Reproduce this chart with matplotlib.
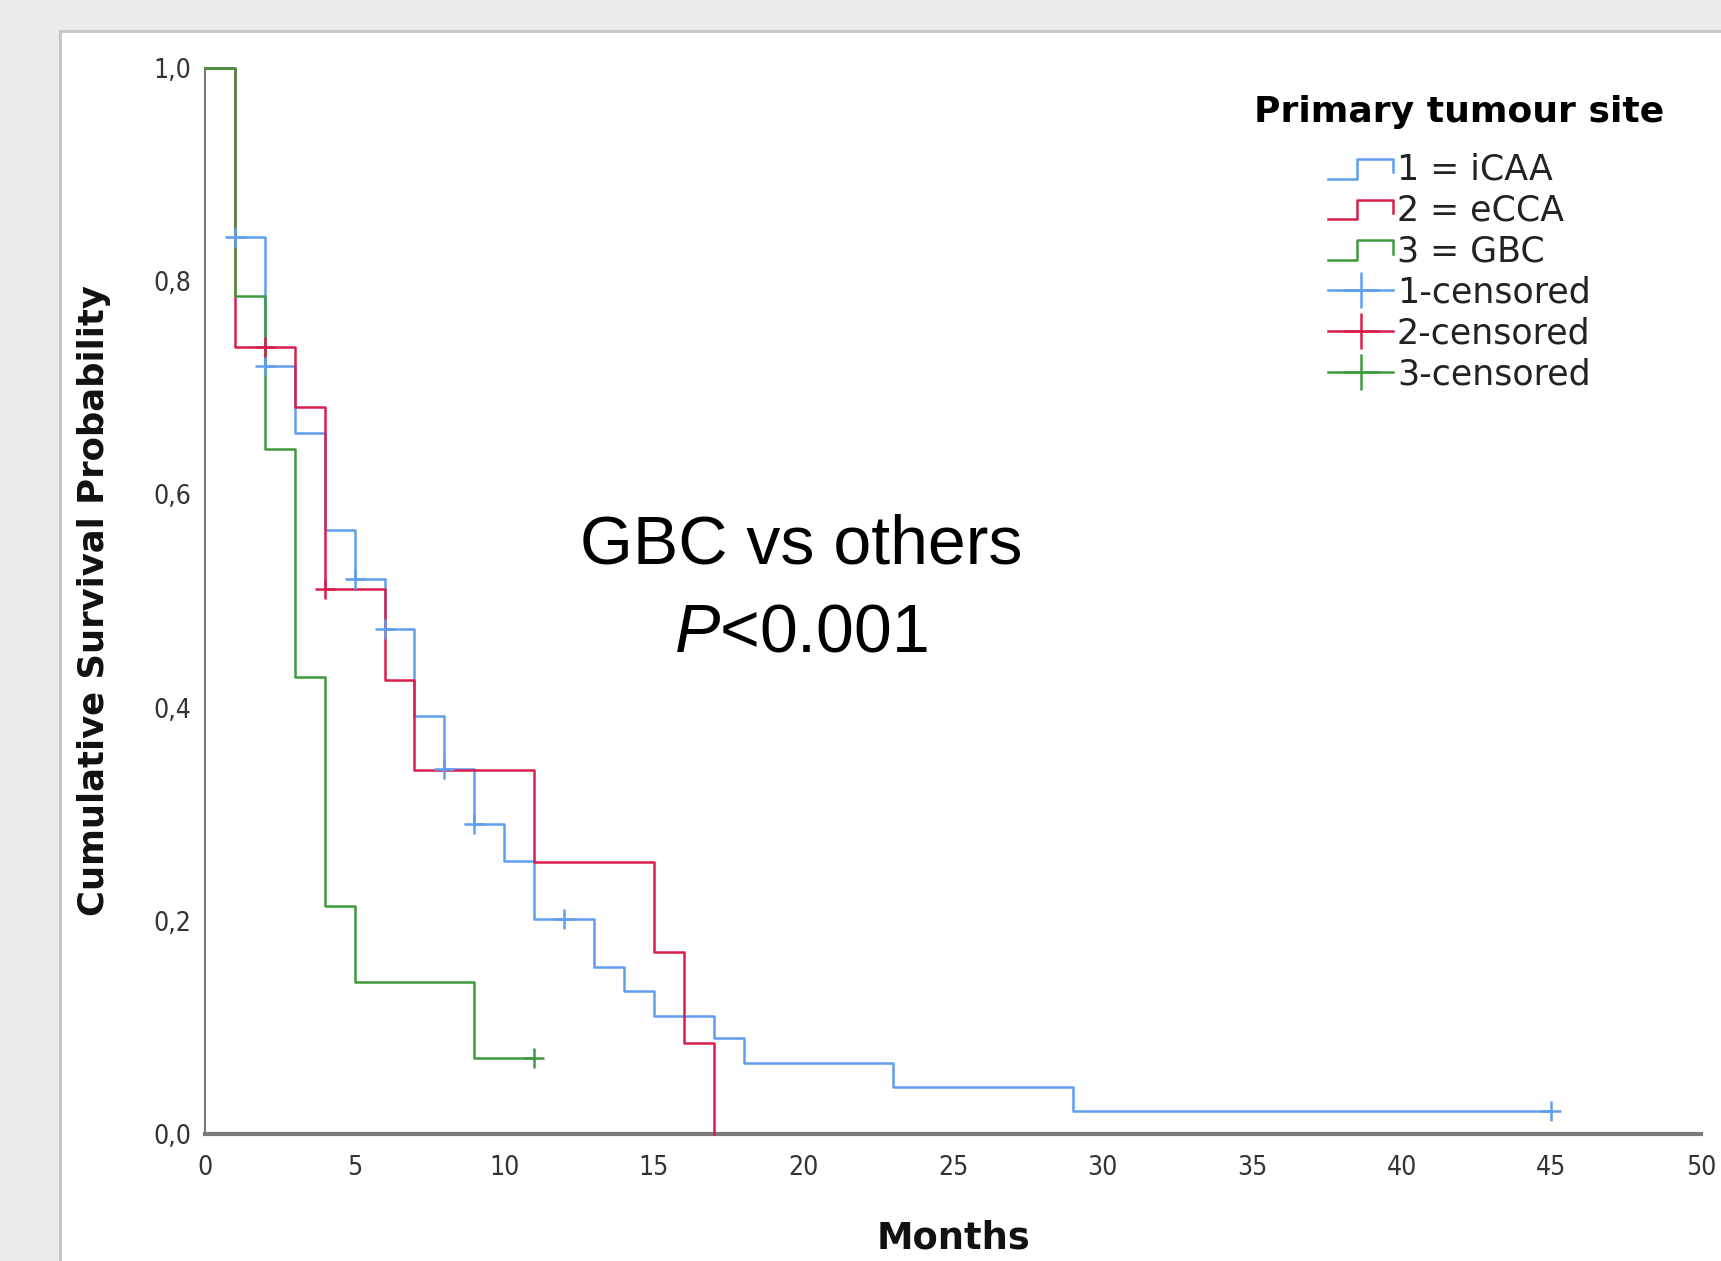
import matplotlib
matplotlib.use("Agg")
import matplotlib.pyplot as plt
from matplotlib.lines import Line2D
from matplotlib.legend_handler import HandlerBase
from matplotlib.patches import Rectangle

# ---- data ----
icaa_t = [0, 1, 2, 3, 4, 5, 6, 7, 8, 9, 10, 11, 13, 14, 15, 17, 18, 23, 29, 45]
icaa_s = [1.0, 0.841, 0.72, 0.658, 0.567, 0.521, 0.474, 0.392, 0.342, 0.291, 0.256,
          0.202, 0.157, 0.134, 0.111, 0.090, 0.067, 0.044, 0.022, 0.022]
icaa_cens_t = [1, 2, 5, 6, 8, 9, 12, 45]
icaa_cens_s = [0.841, 0.72, 0.521, 0.474, 0.342, 0.291, 0.202, 0.022]

ecca_t = [0, 1, 3, 4, 6, 7, 11, 15, 16, 17]
ecca_s = [1.0, 0.738, 0.682, 0.511, 0.426, 0.341, 0.255, 0.171, 0.085, 0.0]
ecca_cens_t = [2, 4]
ecca_cens_s = [0.738, 0.511]

gbc_t = [0, 1, 2, 3, 4, 5, 9, 11]
gbc_s = [1.0, 0.786, 0.643, 0.429, 0.214, 0.143, 0.071, 0.071]
gbc_cens_t = [11]
gbc_cens_s = [0.071]

labels = ["1 = iCAA", "2 = eCCA", "3 = GBC", "1-censored", "2-censored", "3-censored"]
xticks = [0, 5, 10, 15, 20, 25, 30, 35, 40, 45, 50]
yticks = [0.0, 0.2, 0.4, 0.6, 0.8, 1.0]

c_blue = "#5f9ded"
c_red = "#d81f4c"
c_green = "#3e9a3e"

plt.rcParams['mathtext.fontset'] = 'custom'
plt.rcParams['mathtext.it'] = 'Liberation Sans:italic'
plt.rcParams['mathtext.rm'] = 'Liberation Sans'

W, H = 1721, 1261
fig = plt.figure(figsize=(W / 100, H / 100), dpi=100)
fig.patch.set_facecolor("#ebebeb")
fig.patches.append(Rectangle((60 / W, -0.01), 1 - 60 / W + 0.01, 1 - 31 / H + 0.01,
                             transform=fig.transFigure, facecolor="white",
                             edgecolor="#c4c4c4", linewidth=2, zorder=-5))

ax = fig.add_axes([205 / W, 1 - 1134 / H, (1701 - 205) / W, (1134 - 68) / H])
ax.set_zorder(2)
ax.set_facecolor("none")
ax.set_xlim(0, 50)
ax.set_ylim(0, 1)

lw = 1.8
ms = 15
for t, s, ct, cs, c in [(icaa_t, icaa_s, icaa_cens_t, icaa_cens_s, c_blue),
                        (ecca_t, ecca_s, ecca_cens_t, ecca_cens_s, c_red),
                        (gbc_t, gbc_s, gbc_cens_t, gbc_cens_s, c_green)]:
    ax.step(t, s, where="post", color=c, lw=lw, clip_on=False, zorder=3)
    ax.plot(ct, cs, linestyle="none", marker="+", color=c, markersize=ms,
            markeredgewidth=1.8, clip_on=False, zorder=4)

for sp in ["top", "right"]:
    ax.spines[sp].set_visible(False)
ax.spines["left"].set_color("#777777")
ax.spines["left"].set_linewidth(1.5)
ax.spines["bottom"].set_color("#7a7a7a")
ax.spines["bottom"].set_linewidth(3)

tick_font = dict(family="DejaVu Sans", stretch="condensed", size=19)
ax.set_xticks(xticks)
ax.set_xticklabels([str(x) for x in xticks], color="#333333", **tick_font)
ax.set_yticks(yticks)
ax.set_yticklabels([f"{y:.1f}".replace(".", ",") for y in yticks], color="#333333", **tick_font)
ax.tick_params(axis="x", length=0, pad=15)
ax.tick_params(axis="y", length=0, pad=10)

ax.set_xlabel("Months", fontsize=26.5, fontweight="bold", labelpad=28, color="#111111")
ax.set_ylabel("Cumulative Survival Probability", fontsize=25.5, fontweight="bold",
              labelpad=30, color="#111111")


class StepHandler(HandlerBase):
    def create_artists(self, legend, orig_handle, xdescent, ydescent, width, height,
                       fontsize, trans):
        x0 = -xdescent
        y0 = -ydescent
        xs = [x0, x0 + 0.45 * width, x0 + 0.45 * width, x0 + width, x0 + width]
        ys = [y0 + 0.1 * height, y0 + 0.1 * height, y0 + 0.85 * height,
              y0 + 0.85 * height, y0 + 0.35 * height]
        ln = Line2D(xs, ys, color=orig_handle.get_color(), lw=orig_handle.get_linewidth())
        ln.set_transform(trans)
        return [ln]


h1 = Line2D([], [], color=c_blue, lw=lw)
h2 = Line2D([], [], color=c_red, lw=lw)
h3 = Line2D([], [], color=c_green, lw=lw)
h4 = Line2D([], [], color=c_blue, lw=lw, marker="+", markersize=26, markeredgewidth=1.8)
h5 = Line2D([], [], color=c_red, lw=lw, marker="+", markersize=26, markeredgewidth=1.8)
h6 = Line2D([], [], color=c_green, lw=lw, marker="+", markersize=26, markeredgewidth=1.8)

leg = fig.legend([h1, h2, h3, h4, h5, h6], labels,
                 handler_map={h1: StepHandler(), h2: StepHandler(), h3: StepHandler()},
                 loc="upper right", bbox_to_anchor=(1682 / W, 1 - 78 / H),
                 frameon=False, fontsize=25, title="Primary tumour site",
                 title_fontproperties={"weight": "bold", "size": 26},
                 handlelength=1.85, handleheight=0.8, handletextpad=0.12,
                 labelspacing=0.2, borderpad=0, numpoints=1)
leg._legend_box.sep = 17
for txt in leg.get_texts():
    txt.set_color("#222222")

fig.text(801 / W, 1 - 545 / H, "GBC vs others", fontsize=49, family="Liberation Sans",
         ha="center", va="center", color="black")
fig.text(801 / W, 1 - 633 / H, r"$\mathit{P}$<0.001", fontsize=49, family="Liberation Sans",
         ha="center", va="center", color="black")

fig.savefig("out.png", dpi=100, facecolor=fig.get_facecolor())
